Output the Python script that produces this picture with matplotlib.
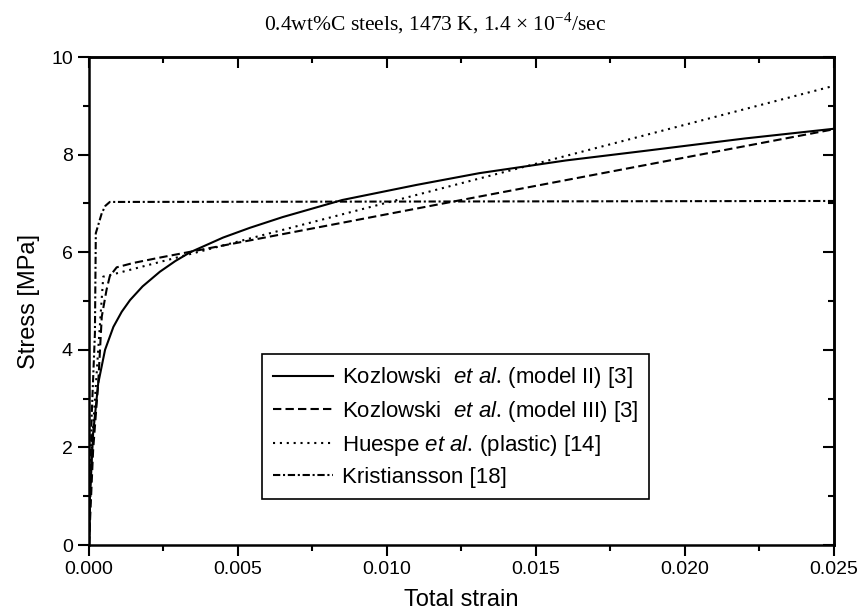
import matplotlib.pyplot as plt
from matplotlib.ticker import MultipleLocator

plt.rcParams['font.family'] = ['Liberation Sans', 'DejaVu Sans']
plt.rcParams['mathtext.fontset'] = 'custom'
plt.rcParams['mathtext.it'] = 'Liberation Sans:italic'
plt.rcParams['mathtext.rm'] = 'Liberation Serif'

# Kozlowski et al. (model II)
strain_k2 = [0.0, 0.00003, 0.00014, 0.00031, 0.00054, 0.00082, 0.0011, 0.00138,
             0.0018, 0.00238, 0.0029, 0.0034, 0.0045, 0.0054, 0.0065, 0.0085,
             0.011, 0.0131, 0.016, 0.0187, 0.022, 0.025]
stress_k2 = [0.0, 0.92, 2.29, 3.31, 4.0, 4.47, 4.78, 5.02,
             5.3, 5.6, 5.82, 6.0, 6.3, 6.5, 6.72, 7.07,
             7.38, 7.62, 7.88, 8.08, 8.33, 8.53]

# Kozlowski et al. (model III)
strain_k3 = [0.0, 0.00014, 0.00031, 0.00043, 0.00059, 0.0007, 0.00093, 0.00149,
             0.00238, 0.0131, 0.025]
stress_k3 = [0.0, 1.95, 3.31, 4.68, 5.23, 5.51, 5.69, 5.78,
             5.89, 7.14, 8.52]

# Huespe et al. (plastic)
strain_hu = [0.0, 0.00009, 0.00031, 0.00048, 0.0007, 0.00238, 0.0131, 0.025]
stress_hu = [0.0, 1.95, 4.0, 5.5, 5.53, 5.80, 7.51, 9.41]

# Kristiansson
strain_kr = [0.0, 0.00009, 0.0002, 0.00023, 0.00043, 0.00055, 0.0007, 0.025]
stress_kr = [0.0, 2.63, 4.34, 6.39, 6.8, 6.95, 7.03, 7.05]

labels = [
    'Kozlowski  $\\it{et\\ al.}\\,$(model II) [3]',
    'Kozlowski  $\\it{et\\ al.}\\,$(model III) [3]',
    'Huespe $\\it{et\\ al.}\\,$(plastic) [14]',
    'Kristiansson [18]',
]

fig = plt.figure(figsize=(8.62, 6.15), dpi=100)
ax = fig.add_axes([0.1032, 0.1138, 0.8643, 0.7935])

lw = 1.5
ax.plot(strain_k2, stress_k2, color='black', lw=lw, linestyle='-', label=labels[0])
ax.plot(strain_k3, stress_k3, color='black', lw=lw, linestyle=(0, (4, 2)), label=labels[1])
ax.plot(strain_hu, stress_hu, color='black', lw=lw, linestyle=(0, (1, 2.3)), label=labels[2])
ax.plot(strain_kr, stress_kr, color='black', lw=lw, linestyle=(0, (3.5, 1.3, 1, 1.3)), label=labels[3])

ax.set_xlim(0, 0.025)
ax.set_ylim(0, 10)
ax.xaxis.set_major_locator(MultipleLocator(0.005))
ax.xaxis.set_minor_locator(MultipleLocator(0.0025))
ax.yaxis.set_major_locator(MultipleLocator(2))
ax.yaxis.set_minor_locator(MultipleLocator(1))
ax.xaxis.set_major_formatter(plt.FormatStrFormatter('%.3f'))

for s in ax.spines.values():
    s.set_linewidth(1.8)

ax.tick_params(which='both', labelsize=14, width=1.5, direction='out')
ax.tick_params(which='major', length=8)
ax.tick_params(which='minor', length=4)

# top and right axes: ticks pointing inward, no labels
top = ax.secondary_xaxis('top')
top.xaxis.set_major_locator(MultipleLocator(0.005))
top.xaxis.set_minor_locator(MultipleLocator(0.0025))
right = ax.secondary_yaxis('right')
right.yaxis.set_major_locator(MultipleLocator(2))
right.yaxis.set_minor_locator(MultipleLocator(1))
for sec in (top, right):
    sec.tick_params(which='both', direction='in', width=1.5, labeltop=False, labelright=False)
    sec.tick_params(which='major', length=8)
    sec.tick_params(which='minor', length=4)
    for s in sec.spines.values():
        s.set_linewidth(1.8)

ax.set_xlabel('Total strain', fontsize=17, labelpad=8)
ax.set_ylabel('Stress [MPa]', fontsize=17, labelpad=8)

fig.text(0.505, 0.963, '0.4wt%C steels, 1473 K, 1.4 × 10$^{-4}$/sec',
         family='Liberation Serif', fontsize=15.5, ha='center', va='center')

leg = ax.legend(loc='lower left', bbox_to_anchor=(0.232, 0.094), borderaxespad=0,
                fancybox=False, edgecolor='black', framealpha=1, fontsize=16,
                handlelength=2.7, handletextpad=0.4, labelspacing=0.4,
                borderpad=0.5)
leg.get_frame().set_linewidth(1.2)

fig.savefig('out.png', dpi=100)
